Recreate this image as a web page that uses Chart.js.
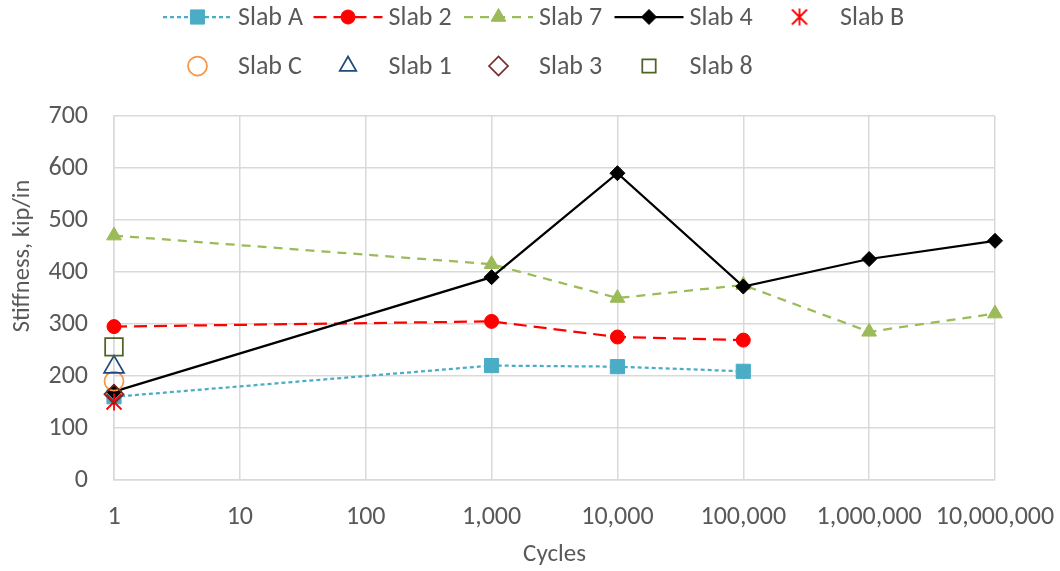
<!DOCTYPE html>
<html>
<head>
<meta charset="utf-8">
<script src="https://cdn.jsdelivr.net/npm/chart.js@4"></script>
<style>
html,body{margin:0;padding:0;background:#fff;}
#wrap{width:1060px;height:571px;position:relative;}
</style>
</head>
<body>
<div id="wrap"><canvas id="c" width="1060" height="571"></canvas></div>
<script>
// ---- data ----
const cycles = [1, 1000, 10000, 100000, 1000000, 10000000];
const slabA = [160, 220, 218, 209];
const slab2 = [295, 305, 275, 269];
const slab7 = [470, 415, 350, 375, 285, 320];
const slab4 = [170, 390, 590, 372, 425, 460];
const slabB = [150];
const slabC = [190];
const slab1 = [217];
const slab3 = [165];
const slab8 = [256];
const xTicks = [1, 10, 100, 1000, 10000, 100000, 1000000, 10000000];
const yTicks = [0, 100, 200, 300, 400, 500, 600, 700];
const yTitle = 'Stiffness, kip/in';
const xTitle = 'Cycles';

const FONT = 'Carlito, Calibri, Lato, sans-serif';
const TXT = '#595959';
const FS = 26;

function pts(vals){ return vals.map((v,i)=>({x:cycles[i], y:v})); }

// asterisk marker (X with vertical stroke)
function makeAst(sz){
  const c = document.createElement('canvas');
  c.width = sz; c.height = sz;
  const g = c.getContext('2d');
  g.strokeStyle = '#ff0000'; g.lineWidth = 1.8;
  const m = 1.5, e = sz - 1.5, h = sz/2;
  g.beginPath();
  g.moveTo(m,m); g.lineTo(e,e);
  g.moveTo(e,m); g.lineTo(m,e);
  g.moveTo(h,0.5); g.lineTo(h,sz-0.5);
  g.stroke();
  return c;
}
const astPlot = makeAst(18);
const astLeg = makeAst(18);

const datasets = [
  {label:'Slab A', data:pts(slabA), borderColor:'#4bacc6', backgroundColor:'#4bacc6', borderDash:[4,3], borderWidth:2.25, pointStyle:'rect', pointRadius:10, pointBorderWidth:1, showLine:true},
  {label:'Slab 2', data:pts(slab2), borderColor:'#ff0000', backgroundColor:'#ff0000', borderDash:[13,7], borderWidth:2.25, pointStyle:'circle', pointRadius:7, pointBorderWidth:1, showLine:true},
  {label:'Slab 7', data:pts(slab7), borderColor:'#9bbb59', backgroundColor:'#9bbb59', borderDash:[9,7], borderWidth:2.25, pointStyle:'triangle', pointRadius:8.5, pointBorderWidth:1, showLine:true},
  {label:'Slab 4', data:pts(slab4), borderColor:'#000000', backgroundColor:'#000000', borderWidth:2.25, pointStyle:'rectRot', pointRadius:7.5, pointBorderWidth:1, showLine:true},
  {label:'Slab B', data:pts(slabB), borderColor:'#ff0000', backgroundColor:'#ff0000', pointStyle:astPlot, legendStyle:astLeg, pointRadius:9, showLine:false},
  {label:'Slab C', data:pts(slabC), borderColor:'#f79646', backgroundColor:'rgba(0,0,0,0)', pointStyle:'circle', pointRadius:9.5, pointBorderWidth:1.75, showLine:false},
  {label:'Slab 1', data:pts(slab1), borderColor:'#1f497d', backgroundColor:'rgba(0,0,0,0)', pointStyle:'triangle', pointRadius:11.5, pointBorderWidth:1.75, showLine:false},
  {label:'Slab 3', data:pts(slab3), borderColor:'#772c2a', backgroundColor:'rgba(0,0,0,0)', pointStyle:'rectRot', pointRadius:9.5, pointBorderWidth:1.75, showLine:false},
  {label:'Slab 8', data:pts(slab8), borderColor:'#4f6228', backgroundColor:'rgba(0,0,0,0)', pointStyle:'rect', pointRadius:12.5, pointBorderWidth:1.75, showLine:false},
];
datasets.forEach((d,i)=>{
  d.order = datasets.length - i;
  d.pointHoverRadius = d.pointRadius;
  d.pointBorderColor = d.borderColor;
  d.pointBackgroundColor = d.backgroundColor;
  d.fill = false; d.tension = 0; d.clip = false;
});

// custom Excel-like legend (line + marker) and y-axis title
const legendPlugin = {
  id:'excelLegend',
  afterDraw(chart){
    const ctx = chart.ctx;
    const rows = [[0,1,2,3,4],[5,6,7,8]];
    const rowY = [17, 66];
    ctx.save();
    rows.forEach((r,ri)=>{
      r.forEach((di,k)=>{
        const ds = chart.data.datasets[di];
        const x0 = 163 + k*150.5;
        const y = rowY[ri];
        if(ds.showLine){
          ctx.strokeStyle = ds.borderColor;
          ctx.lineWidth = ds.borderWidth;
          ctx.setLineDash(ds.borderDash || []);
          ctx.beginPath(); ctx.moveTo(x0, y); ctx.lineTo(x0+69, y); ctx.stroke();
          ctx.setLineDash([]);
        }
        ctx.strokeStyle = ds.borderColor;
        ctx.fillStyle = ds.backgroundColor;
        ctx.lineWidth = ds.pointBorderWidth || 1;
        const r = ds.showLine ? ds.pointRadius : Math.min(ds.pointRadius, 9.5);
        Chart.helpers.drawPoint(ctx, {pointStyle: ds.legendStyle || ds.pointStyle, radius: r, borderWidth: ds.pointBorderWidth || 1, rotation:0}, x0+34.5, y);
        ctx.fillStyle = TXT;
        ctx.font = FS + 'px ' + FONT;
        ctx.textBaseline = 'middle';
        ctx.textAlign = 'left';
        ctx.fillText(ds.label, x0+75, y + 1);
      });
    });
    // y-axis title
    ctx.translate(23, 256);
    ctx.rotate(-Math.PI/2);
    ctx.font = '24.5px ' + FONT;
    ctx.fillStyle = TXT;
    ctx.textAlign = 'center';
    ctx.textBaseline = 'middle';
    ctx.fillText(yTitle, 0, 0);
    ctx.restore();
  }
};

new Chart(document.getElementById('c'), {
  type:'line',
  data:{datasets},
  options:{
    responsive:false,
    animation:false,
    layout:{padding:{top:116, right:65, left:0, bottom:0}},
    plugins:{legend:{display:false}, tooltip:{enabled:false}},
    scales:{
      x:{
        type:'logarithmic', min:1, max:10000000,
        afterBuildTicks(s){ s.ticks = xTicks.map(v=>({value:v})); },
        afterFit(s){ s.height = 91; s.paddingRight = 0; s.paddingLeft = 0; },
        ticks:{color:TXT, font:{size:FS, family:FONT}, maxRotation:0, minRotation:0, autoSkip:false, padding:22,
          callback:(v)=>Number(v).toLocaleString('en-US')},
        grid:{color:'#d9d9d9', lineWidth:1.5, drawTicks:false},
        border:{color:'#d9d9d9', width:1.5},
        title:{display:true, text:xTitle, color:TXT, font:{size:FS-1, family:FONT}, padding:{top:0,bottom:1}}
      },
      y:{
        min:0, max:700,
        afterBuildTicks(s){ s.ticks = yTicks.map(v=>({value:v})); },
        afterFit(s){ s.width = 114; s.paddingTop = 0; s.paddingBottom = 0; },
        ticks:{color:TXT, font:{size:FS, family:FONT}, padding:26},
        grid:{color:'#d9d9d9', lineWidth:1.5, drawTicks:false},
        border:{color:'#d9d9d9', width:1.5},
        title:{display:false, text:yTitle}
      }
    }
  },
  plugins:[legendPlugin]
});
</script>
</body>
</html>
